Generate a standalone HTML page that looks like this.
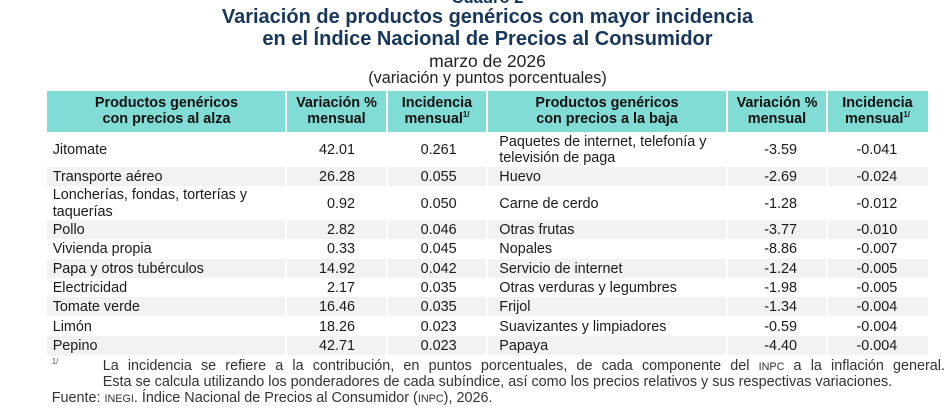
<!DOCTYPE html>
<html><head><meta charset="utf-8">
<style>
*{margin:0;padding:0;box-sizing:border-box}
body{width:949px;height:419px;background:#fff;position:relative;overflow:hidden;font-family:"Liberation Sans",Arial,sans-serif;color:#1a1a1a}
.t{position:absolute;left:0;width:975px;text-align:center;white-space:nowrap}
.ttl{font-weight:bold;font-size:20px;line-height:21.7px;color:#16365c}
.row{position:absolute;left:47px;width:881px}
.g{background:#f2f2f2}
.hd{position:absolute;left:47px;width:881px;top:91px;height:41px;background:#80dcd5}
.c{position:absolute;top:0;height:100%;display:flex;align-items:center;font-size:14.4px;line-height:16.5px;white-space:nowrap;padding-top:1.5px}
.r{justify-content:flex-end}
.h{position:absolute;top:0;height:100%;display:flex;align-items:center;justify-content:center;text-align:center;font-weight:bold;font-size:14.4px;line-height:15.8px;color:#111;padding-top:1px;white-space:nowrap}
.n1{left:5.7px}
.v1{left:239px;width:69px}
.i1{left:340px;width:69.7px}
.n2{left:452.3px}
.v2{left:680px;width:70px}
.i2{left:780px;width:70.3px}
.vl{position:absolute;top:91px;height:264px;width:1.5px;background:#fff}
sup.s{font-size:8px;vertical-align:6px;line-height:0}
.fn{position:absolute;font-size:14.4px;line-height:16.3px;color:#333;white-space:nowrap}
.sc{font-size:10.8px}
</style></head><body>

<div class="t" style="top:-12.5px;font-weight:bold;font-size:16.6px;line-height:19px;color:#16365c">Cuadro 2</div>
<div class="t ttl" style="top:7.2px">Variación de productos genéricos con mayor incidencia</div>
<div class="t ttl" style="top:28.9px">en el Índice Nacional de Precios al Consumidor</div>
<div class="t" style="top:51.4px;font-size:17.5px;line-height:20px;color:#222">marzo de 2026</div>
<div class="t" style="top:68.7px;font-size:16.2px;line-height:18px;color:#222">(variación y puntos porcentuales)</div>

<div class="hd">
  <div class="h" style="left:0;width:239px"><div>Productos genéricos<br>con precios al alza</div></div>
  <div class="h" style="left:239px;width:101px"><div>Variación %<br>mensual</div></div>
  <div class="h" style="left:340px;width:100px"><div>Incidencia<br>mensual<sup class="s">1/</sup></div></div>
  <div class="h" style="left:440px;width:240px"><div>Productos genéricos<br>con precios a la baja</div></div>
  <div class="h" style="left:680px;width:100px"><div>Variación %<br>mensual</div></div>
  <div class="h" style="left:780px;width:101px"><div>Incidencia<br>mensual<sup class="s">1/</sup></div></div>
</div>

<div class="row" style="top:132px;height:34.5px">
  <div class="c n1">Jitomate</div><div class="c r v1">42.01</div><div class="c r i1">0.261</div>
  <div class="c n2"><div>Paquetes de internet, telefonía y<br>televisión de paga</div></div><div class="c r v2">-3.59</div><div class="c r i2">-0.041</div>
</div>
<div class="row g" style="top:166.5px;height:19.5px">
  <div class="c n1">Transporte aéreo</div><div class="c r v1">26.28</div><div class="c r i1">0.055</div>
  <div class="c n2">Huevo</div><div class="c r v2">-2.69</div><div class="c r i2">-0.024</div>
</div>
<div class="row" style="top:186px;height:34px">
  <div class="c n1"><div>Loncherías, fondas, torterías y<br>taquerías</div></div><div class="c r v1">0.92</div><div class="c r i1">0.050</div>
  <div class="c n2">Carne de cerdo</div><div class="c r v2">-1.28</div><div class="c r i2">-0.012</div>
</div>
<div class="row g" style="top:220px;height:19.3px">
  <div class="c n1">Pollo</div><div class="c r v1">2.82</div><div class="c r i1">0.046</div>
  <div class="c n2">Otras frutas</div><div class="c r v2">-3.77</div><div class="c r i2">-0.010</div>
</div>
<div class="row" style="top:239.3px;height:19.3px">
  <div class="c n1">Vivienda propia</div><div class="c r v1">0.33</div><div class="c r i1">0.045</div>
  <div class="c n2">Nopales</div><div class="c r v2">-8.86</div><div class="c r i2">-0.007</div>
</div>
<div class="row g" style="top:258.6px;height:19.3px">
  <div class="c n1">Papa y otros tubérculos</div><div class="c r v1">14.92</div><div class="c r i1">0.042</div>
  <div class="c n2">Servicio de internet</div><div class="c r v2">-1.24</div><div class="c r i2">-0.005</div>
</div>
<div class="row" style="top:277.9px;height:19.3px">
  <div class="c n1">Electricidad</div><div class="c r v1">2.17</div><div class="c r i1">0.035</div>
  <div class="c n2">Otras verduras y legumbres</div><div class="c r v2">-1.98</div><div class="c r i2">-0.005</div>
</div>
<div class="row g" style="top:297.2px;height:19.3px">
  <div class="c n1">Tomate verde</div><div class="c r v1">16.46</div><div class="c r i1">0.035</div>
  <div class="c n2">Frijol</div><div class="c r v2">-1.34</div><div class="c r i2">-0.004</div>
</div>
<div class="row" style="top:316.5px;height:19.3px">
  <div class="c n1">Limón</div><div class="c r v1">18.26</div><div class="c r i1">0.023</div>
  <div class="c n2">Suavizantes y limpiadores</div><div class="c r v2">-0.59</div><div class="c r i2">-0.004</div>
</div>
<div class="row g" style="top:335.8px;height:19.2px">
  <div class="c n1">Pepino</div><div class="c r v1">42.71</div><div class="c r i1">0.023</div>
  <div class="c n2">Papaya</div><div class="c r v2">-4.40</div><div class="c r i2">-0.004</div>
</div>

<div class="vl" style="left:285.3px"></div>
<div class="vl" style="left:386.3px"></div>
<div class="vl" style="left:486.3px"></div>
<div class="vl" style="left:726.3px"></div>
<div class="vl" style="left:826.3px"></div>

<div style="position:absolute;left:51.7px;top:357px;font-size:8px;line-height:10px;color:#555">1/</div>
<div class="fn" style="left:102.7px;top:358px;width:842.3px;text-align:justify;text-align-last:justify">La incidencia se refiere a la contribución, en puntos porcentuales, de cada componente del <span class="sc">INPC</span> a la inflación general.</div>
<div class="fn" style="left:102.7px;top:374px">Esta se calcula utilizando los ponderadores de cada subíndice, así como los precios relativos y sus respectivas variaciones.</div>
<div class="fn" style="left:51.7px;top:389.6px">Fuente: <span class="sc">INEGI</span>. Índice Nacional de Precios al Consumidor (<span class="sc">INPC</span>), 2026.</div>

</body></html>
